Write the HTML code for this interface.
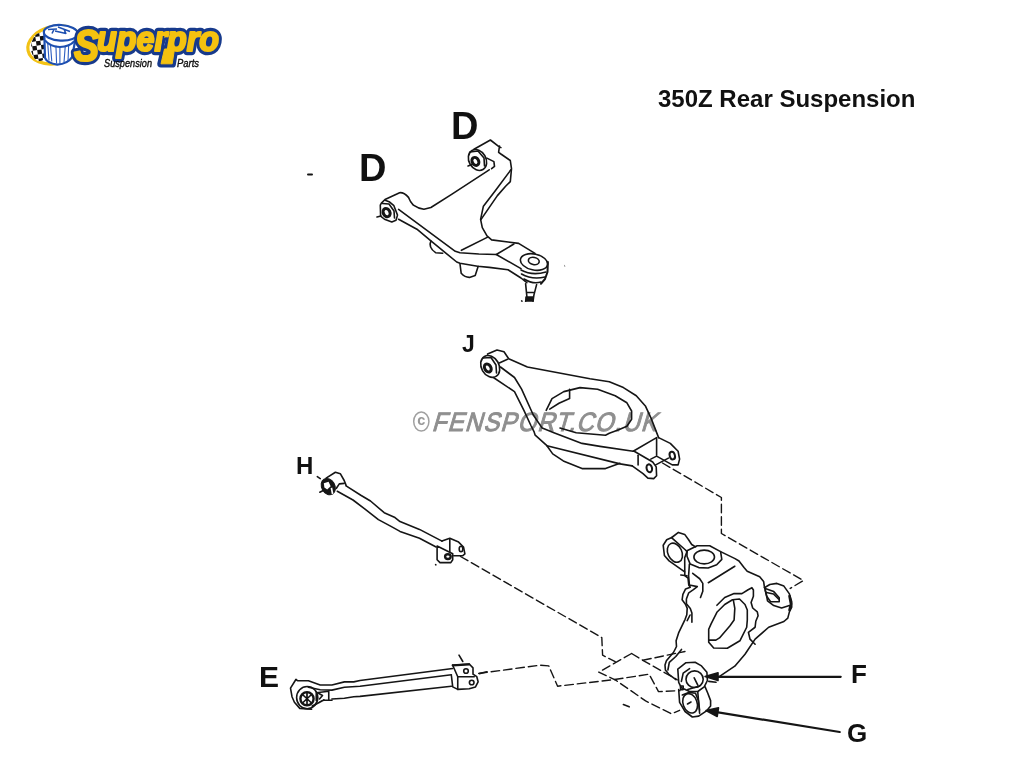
<!DOCTYPE html>
<html><head><meta charset="utf-8">
<style>
html,body{margin:0;padding:0;background:#fff;width:1024px;height:768px;overflow:hidden;}
body{position:relative;font-family:"Liberation Sans",sans-serif;}
.t{position:absolute;font-weight:bold;color:#111;line-height:1;white-space:nowrap;will-change:transform;}
svg{position:absolute;left:0;top:0;}
</style></head><body>
<svg id="logo" width="240" height="80" viewBox="0 0 240 80" style="position:absolute;left:0;top:0;will-change:transform;">
<defs><clipPath id="chk"><ellipse cx="40" cy="47" rx="9" ry="14" transform="rotate(10 40 47)"/></clipPath></defs>
<ellipse cx="55" cy="45" rx="27.5" ry="18.5" transform="rotate(-12 55 45)" fill="#fff" stroke="#f2c215" stroke-width="3.2"/>
<g clip-path="url(#chk)" transform="rotate(-8 40 47)">
<rect x="28" y="32" width="24" height="32" fill="#fff"/>
<g fill="#111">
<rect x="28" y="32" width="4.4" height="4.4"/><rect x="36.8" y="32" width="4.4" height="4.4"/><rect x="45.6" y="32" width="4.4" height="4.4"/>
<rect x="32.4" y="36.4" width="4.4" height="4.4"/><rect x="41.2" y="36.4" width="4.4" height="4.4"/>
<rect x="28" y="40.8" width="4.4" height="4.4"/><rect x="36.8" y="40.8" width="4.4" height="4.4"/><rect x="45.6" y="40.8" width="4.4" height="4.4"/>
<rect x="32.4" y="45.2" width="4.4" height="4.4"/><rect x="41.2" y="45.2" width="4.4" height="4.4"/>
<rect x="28" y="49.6" width="4.4" height="4.4"/><rect x="36.8" y="49.6" width="4.4" height="4.4"/><rect x="45.6" y="49.6" width="4.4" height="4.4"/>
<rect x="32.4" y="54" width="4.4" height="4.4"/><rect x="41.2" y="54" width="4.4" height="4.4"/>
<rect x="28" y="58.4" width="4.4" height="4.4"/><rect x="36.8" y="58.4" width="4.4" height="4.4"/><rect x="45.6" y="58.4" width="4.4" height="4.4"/>
</g></g>
<path d="M44.3,34 L45,57.9 Q47,63 57.2,64.7 Q68,63.8 72.1,57 L76,36" fill="#fff" stroke="#1d4fb0" stroke-width="2.2"/>
<g stroke="#2a5cc0" stroke-width="1.1" fill="none">
<path d="M47.7,43 L49,60.5 M50.4,44 L51.8,61.5 M55.9,45.5 L56.6,63.5 M59.9,46 L59.9,64 M65.3,45.5 L64,62.5 M68.7,44.5 L68,61"/>
</g>
<path d="M45,40.3 Q50,46.5 59.9,47.1 Q70,46.5 74.5,41" fill="none" stroke="#1d4fb0" stroke-width="2"/>
<ellipse cx="60.8" cy="32.8" rx="17" ry="7.8" transform="rotate(3 60.8 32.8)" fill="#fff" stroke="#1d4fb0" stroke-width="2.2"/>
<path d="M48,29.5 L57,29 M52,33.5 L54,29.5 M55,31 L66,33.5 M64,29 L66,34 M58,27 L70,31.5" stroke="#1d4fb0" stroke-width="1.6" fill="none"/>
<g font-family="Liberation Sans" font-weight="bold" font-style="italic" fill="#173a8c" stroke="#173a8c" stroke-width="8.5" stroke-linejoin="round">
<text x="74" y="61" font-size="44" textLength="25" lengthAdjust="spacingAndGlyphs">S</text>
<text x="97" y="50.5" font-size="35" textLength="122" lengthAdjust="spacingAndGlyphs">uperpro</text>
<path d="M164.5,49 L174.5,49 L172.2,63.8 L161,63.8 Z" stroke-width="7.5"/>
</g>
<g font-family="Liberation Sans" font-weight="bold" font-style="italic" fill="#f5c20f" stroke="#f5c20f" stroke-width="2.2" stroke-linejoin="round">
<text x="74" y="61" font-size="44" textLength="25" lengthAdjust="spacingAndGlyphs">S</text>
<text x="97" y="50.5" font-size="35" textLength="122" lengthAdjust="spacingAndGlyphs">uperpro</text>
<path d="M164.5,49 L174.5,49 L172.2,63.8 L161,63.8 Z" stroke-width="1"/>
<path d="M163.6,36 L160.8,58" stroke="#173a8c" stroke-width="1.6" fill="none"/>
</g>
<g font-family="Liberation Sans" font-style="italic" stroke="#000" stroke-width="0.35" fill="#1a1a1a" font-size="10.5">
<text x="104" y="66.5" textLength="48" lengthAdjust="spacingAndGlyphs">Suspension</text>
<text x="177" y="66.5" textLength="22" lengthAdjust="spacingAndGlyphs">Parts</text>
</g>
</svg>
<div class="t" id="title" style="left:658px;top:87px;font-size:24px;">350Z Rear Suspension</div>
<div class="t" id="d1" style="left:450.5px;top:107px;font-size:38px;">D</div>
<div class="t" id="d2" style="left:358.5px;top:148.5px;font-size:38px;">D</div>
<div class="t" id="lj" style="left:462px;top:333px;font-size:23px;">J</div>
<div class="t" id="lh" style="left:295.5px;top:454px;font-size:24px;">H</div>
<div class="t" id="le" style="left:259px;top:662px;font-size:30px;">E</div>
<div class="t" id="lf" style="left:850.5px;top:661px;font-size:26px;">F</div>
<div class="t" id="lg" style="left:847px;top:720px;font-size:26px;">G</div>
<svg id="wmsvg" width="1024" height="768" style="position:absolute;left:0;top:0;">
<g fill="#8f8f8f" font-family="Liberation Sans">
<ellipse cx="421.3" cy="421.5" rx="7.6" ry="9.6" fill="none" stroke="#a0a0a0" stroke-width="1.5"/>
<text x="421.3" y="425.3" font-size="14.5" font-weight="bold" fill="#999" text-anchor="middle">c</text>
<text x="0" y="0" font-size="26.5" stroke="#8f8f8f" stroke-width="1.0" textLength="250" lengthAdjust="spacing" transform="translate(431.5 431.3) scale(0.9 1) skewX(-18)">FENSPORT.CO.UK</text>
</g></svg>


<svg width="1024" height="768" viewBox="0 0 1024 768" fill="none" stroke="#151515" stroke-width="1.6" stroke-linejoin="round" stroke-linecap="round">
<!-- upper arm D -->
<g id="armD">
<path d="M308,174.5 L312,174.5" stroke-width="2"/>
<path d="M385,199.5 L399.6,192.7 Q404,192.3 408.5,197.4 L410.5,201.5 L413.4,205.2 Q418,208.5 423.9,209.3 L430.9,207.5 L452,194.1 L489.2,169.8"/>
<path d="M381.4,203.1 L384.5,200 L389.7,202.1 L393.9,205.7 L397.5,215.1 L396,220.3 L391.8,221.9 L384.5,219.25 L380.6,216.1 L380.3,205.2 Z"/>
<ellipse cx="386.6" cy="212.6" rx="3.3" ry="4.3" stroke-width="3" transform="rotate(-25 386.6 212.6)"/>
<path d="M382.5,203.5 L389,204 L394,211 L394.5,218"/>
<path d="M377,217 L381,216"/>
<path d="M398.6,209.4 L455.3,251.3 L460,252.8 L478.8,254 L496.3,254.5"/>
<path d="M398.6,219.25 L416.9,229.2 L430.9,240.9 L456.7,262 L460,263.3 L477.6,266.3 L489.3,267.4 L508,269.8 L521,278 L526.8,282.7"/>
<path d="M430.9,240.9 Q428,247.5 435.6,252.7 L442.7,253.2"/>
<path d="M460,264 L461.2,273.3 Q465,277.5 469.4,277.4 L475.2,275.6 L478.2,266.3"/>
<path d="M461.4,250.3 L487.2,237.4"/>
<path d="M474,149.3 L490.4,140 L498.6,146.4 L500.9,147.6 M499.5,146 L498.6,152.3 L500.9,154 L510.3,160.5 L511.5,168.7 L510.3,181.6 L505.6,186.3 L497.4,195.6 L484.5,214.4 L481.1,219.4"/>
<path d="M510.9,169.8 L495.1,190.9 L483.4,206.2 L480.6,219.4 L482.3,227.6 L487,235.8 L491.6,239.9 L518.6,243.4 L535,253.4"/>
<ellipse cx="477.5" cy="160" rx="8.5" ry="11" transform="rotate(-30 477.5 160)"/>
<ellipse cx="475.4" cy="161.4" rx="3.2" ry="4.2" stroke-width="3" transform="rotate(-30 475.4 161.4)"/>
<path d="M470,152 L478,151 L484,158 L484.5,166"/>
<path d="M468,166 L472,164.5"/>
<path d="M486.9,158.1 L493.9,161.6 L494.5,166.3 L491.6,168.7"/>
<path d="M496.3,254.5 L513.9,244 M496.3,254.5 L521,268.6"/>
<ellipse cx="534" cy="262" rx="13.8" ry="8" transform="rotate(12 534 262)"/>
<ellipse cx="533.8" cy="261" rx="5.5" ry="3.5" transform="rotate(12 533.8 261)"/>
<path d="M521,270 Q532,276 546,272 M521.5,274 Q532,280 545,277 M524,279 Q533,284.5 541,282"/>
<path d="M547.9,262 L547.5,272 L545,279 L540.9,283.8" stroke-width="2"/>
<path d="M525.6,283.7 L526.9,296.9 L525.6,301.3 M536.6,284.6 L533.9,295.1 L533,301.3 M526.5,292.5 L534,292.5"/>
<path d="M526,297 L533,297 L533,301 L526,301 Z" fill="#151515"/>
<path d="M521.6,300.9 L522,301.2" stroke-width="1.5"/>
<path d="M564.5,265.3 L564.8,266.5" stroke="#999" stroke-width="1"/>
</g>
<g id="armJ">
<ellipse cx="490.2" cy="366.4" rx="8.8" ry="11.5" transform="rotate(-30 490.2 366.4)"/>
<ellipse cx="487.8" cy="368" rx="3.1" ry="4.3" stroke-width="3" transform="rotate(-30 487.8 368)"/>
<path d="M483,358 L491,357.5 L496,365 L496.5,373"/>
<path d="M487.6,354.1 L497,350 L504,351.7 L508.7,358.8 L527.4,367 L590,378.7 L609.3,381.7 L623.4,387.6 L636.3,395.8 L645.6,406.3 L651.5,419.2 L658.6,437.6"/>
<path d="M499.3,362.9 L507.5,359.3"/>
<path d="M500.5,367 L514.5,377.5 L521.6,389.2 L533.3,415 L542.2,428.1 L553.9,432.8 L582,443.4 L600,446.4 L633.2,451.25"/>
<path d="M493.4,377.5 L514.5,391.6 L523.9,410.3 L530.9,425.5 L534,431.6 L535.2,435.2 L546.9,445.7 L620,463.9 L632.2,465.9"/>
<path d="M546.9,445.7 L552.7,453.9 L563.3,460.9 L582,468.6 L605.5,468.6 L620,463.3"/>
<path d="M546.2,410.3 L552,398.6 L563.8,391.6 L580,387.6 L597.6,389.3 L615.2,395.8 L626.9,402.8 L631.6,411 L631.6,419.2 L626.9,426.3 L618.7,429.8 L609.3,433.3 L605.5,435.2 L576.2,432.8 L560,428"/>
<path d="M549.7,409.1 L559,403.3 L569.6,398.6 L569.6,389.2"/>
<path d="M633.2,451.25 L656.6,437.6 L656.6,455.2"/>
<path d="M658.6,437.6 L670.3,443.4 L678.1,451.25 L679.6,459.1 L678.1,464.9 L672.3,464.9 L656.6,456.1 L650.8,459.1"/>
<path d="M655.7,464.9 L668.4,458.1"/>
<path d="M634.2,451.25 L652.7,462 L656.2,466.9 L656.6,475.7 L653.7,478.6 L647.9,478.1 L643,473.7 L632.2,465.9"/>
<path d="M638.1,455.2 L638.1,464.9"/>
<ellipse cx="672.3" cy="455.6" rx="2.6" ry="3.9" stroke-width="2" transform="rotate(-15 672.3 455.6)"/>
<ellipse cx="649.3" cy="468.3" rx="2.7" ry="4" stroke-width="2" transform="rotate(-15 649.3 468.3)"/>
</g>
<g id="dashes" stroke-dasharray="8.5 4" stroke-width="1.4">
<path d="M662.5,463 L721.4,497.5 L721.4,533.5 L803.4,580.6 L790.2,588.4"/>
<path d="M460.5,556.5 L601.8,637.6 L602.6,655.2 L615.2,661.7"/>
<path d="M631.6,653.5 L598.75,672.2 L615.2,679.8 L645.6,700.9 L671.4,713.8 L679.6,710.3"/>
<path d="M631.6,653.5 L642.8,660.3 L677.3,679.8"/>
<path d="M642.8,660.3 L670.9,654.4 L685,651.5"/>
<path d="M478.75,673.4 L539.8,665.2 L548.7,665.9 L557.6,686.2 L614,679.6 L649.1,674.2 L658.5,691.6 L680,690.6"/>
</g>
<g id="knuckle">
<path d="M623.4,704.5 L629.2,706.8"/>
<path d="M671.8,537.5 L666.7,539.8 L663.2,545.3 L664.4,555.5 L669.1,560.9 L676.9,566.4 L684.7,571.9"/>
<path d="M671.8,537.5 L678.4,532.4 L684.7,534.4 L688.6,539.8 L691.7,544.5 L695.6,546.9"/>
<path d="M671.8,537.9 L685.5,550 L687,551.6"/>
<ellipse cx="674.9" cy="552.7" rx="7" ry="10" transform="rotate(-25 674.9 552.7)"/>
<path d="M687,550.8 L697.2,545.7 L709.7,545.7 L720.6,551.6 L721.8,559.4 L716.7,564.8 L708.1,568 L698.75,567.6 L690.2,564.1 L687,556.25 Z"/>
<ellipse cx="704.2" cy="557" rx="10.3" ry="6.9"/>
<path d="M720.6,551.6 L735,558.6 L739,561 L744,567.5 L747.2,571.25 L759.7,576.7 L763.6,581.4 L764.4,586.9 L765.2,590 L766.7,596.25 L767.5,600.9 L773.75,605.6 L781.6,608 L789.4,605.6"/>
<path d="M687,551.6 L684.7,557.8 L684.8,575.6 L688,578 L688.75,585 L690.3,587.3 L685.6,588.9 L682.9,594.4 L682.1,599.8 L685.6,604.5 L687.2,608.4 L686.8,614.7 L685.1,619.3 L678.6,632.9 L676.1,640.8 L676.5,646.5 L673.6,652.25 L666.4,660.8 L665,665.1 L665.4,670 L668.6,674.1 L675.9,679.6"/>
<path d="M689.4,564.1 L688.6,575.8 L689.4,585 L697.3,586.6 L693.4,589.7 L688.75,592.8 L686.4,599 L686.4,603.75 L690.3,608.4 L691.9,613.1 L691.9,622.2"/>
<path d="M690.1,615 L687.2,620.7"/>
<path d="M681.5,649.4 L675.8,656.5 L669.3,662.3 L667.9,670"/>
<path d="M680.8,575 L687,575.8"/>
<path d="M692.7,573.3 L699.7,578.75 L702.8,583.4 L702.8,591.25 L700.5,597.5"/>
<path d="M708.3,582.7 L734.8,566.25"/>
<path d="M716.9,605.3 L724.7,597.5 L734.1,593.6 L741.9,593.6 L748.1,589.7 L751.9,587.7 L753.4,590 L753.4,596.25 L751.1,602.5 L752.7,608 L757.3,611.9 L758.1,615.8 L755.8,621.25 L755.1,627.25 L748.4,632.3 L750,639.1 L755.1,644.2"/>
<path d="M711.1,623.9 L716.9,612.3 L724.7,604.5 L732.5,599.8 L739.5,599 L745,604.5 L747.3,610 L747.3,620 L746.7,627.25 L739.9,640.8 L727.3,648.3 L713.7,648 L708.7,642.2 L708.7,629.3 Z"/>
<path d="M733.3,599.8 L734.8,608.4 L734.1,620 L730,625.7 L719.5,637.9 L715.9,640.1 L708.7,640.1"/>
<path d="M764.4,587.7 L769.8,584.5 L776.9,583.4 L783.9,586.1 L789.4,593.9 L791.7,601.7 L791.7,607.2 L789.4,611.9 L787.8,618.1 L783.9,621.5 L768.7,627.25 L755.1,639.1 L745,654.3 L734.8,666.2 L719.6,676.4"/>
<path d="M765.2,588.4 L773.75,591.6 L779.2,597.8 L779.2,601.7 L770.6,601.7 L766.7,596.25 L765.2,590"/>
<path d="M766.5,592.5 L773.5,594 L778.5,599"/>
<path d="M789.5,596 L791,604 L789.5,610" stroke-width="2.6"/>
<path d="M677.8,669.1 L686,662.7 L695.1,662.3 L701.5,665.9 L706.9,672.3 L707.4,680.5 L704.2,686.9 L697.8,691.5 L689.6,691.5 L681.4,687.8 L678.7,682.3 Z"/>
<ellipse cx="694.6" cy="679.2" rx="8.6" ry="8.3"/>
<path d="M681.4,681.4 L683.2,673.2 L689.6,668.7 M687.8,689.6 L699.6,686"/>
<path d="M694.2,677.8 L697.8,685.1"/>
<path d="M678.7,689.6 L679.6,702.4 L685.05,711.5 L692.35,717 L698.7,716.1 L706.9,710.6 L710.6,706 L710.6,700.6 L707.8,693.3 L705.1,686.9"/>
<ellipse cx="690.1" cy="703.3" rx="7" ry="10" transform="rotate(-20 690.1 703.3)"/>
<path d="M682.3,695 L688.7,692.4 L695.5,693.3 L698.4,700.6 L699.6,710"/>
<path d="M697.8,692.4 L699.6,713.3"/>
<path d="M687.5,704 L691,702"/>
<rect x="680.5" y="686" width="2.7" height="3.6"/>
</g>
<g id="arrows">
<path d="M840.7,676.8 L712,676.8" stroke-width="2.2"/>
<path d="M705.1,676.6 L718,672.8 L718,680.6 Z" fill="#151515"/>
<path d="M708.75,681.4 L716,682.3"/>
<path d="M839.7,732 L712,711.4" stroke-width="2.2"/>
<path d="M706,710.6 L718.5,707.8 L717.2,716.5 Z" fill="#151515"/>
</g>
<g id="armH">
<path d="M317.3,476.6 L320.25,478.6 M319.8,492.2 L323.7,490.3"/>
<ellipse cx="328.3" cy="486.6" rx="6.6" ry="8.6" fill="#151515" stroke-width="1" transform="rotate(-30 328.3 486.6)"/>
<path d="M323.8,483.2 L328.6,481.8 L330.6,486.2 L327.2,489.4 L324.4,487.6 Z" fill="#fff" stroke="none"/>
<path d="M330.6,488.3 L332.2,487.6 L333.4,493.6 L331.8,494.4 Z" fill="#fff" stroke="none"/>
<path d="M326.1,478.1 L335.4,472.2 L340.3,473.7 L344.2,480.5 L346.1,485.4"/>
<path d="M336.4,488.3 L339.3,483.9 L344.2,483.4"/>
<path d="M346.1,485.9 L360.8,495.2 L370.5,501 L384.2,512.7 L395,517.6 L400,521.6 L419.5,529.4 L442,541.1"/>
<path d="M337.3,491.25 L353,500 L364.7,508.8 L378.4,519.6 L391,526.4 L400,531.4 L419.5,538.2 L436.1,547"/>
<path d="M442,541.1 L449.8,538.2 L458.6,542.1 L463.5,547 L464.9,553.8 L462.5,555.8 L453.7,555.8"/>
<path d="M449.8,538.7 L449.8,551.9"/>
<path d="M437.1,546 L437.1,559.7 L440,562.6 L450.8,562.6 L452.7,559.7 L452.7,553.8 L437.1,546"/>
<ellipse cx="447.9" cy="556.6" rx="2.8" ry="2.4" stroke-width="2.4"/>
<ellipse cx="461" cy="549" rx="1.8" ry="2.8" stroke-width="1.6"/>
<path d="M435.6,564.6 L435.9,564.8"/>
</g>

<g id="armE">
<path d="M295.9,679.5 L297.5,680.7 L308.4,680.7 L320.2,685 L331.9,685 L344.4,681.9 L353.75,681.9 L360,680.5 L452.7,668.5"/>
<path d="M295.9,679.5 L290.5,688.1 L292,696.7 L294.4,702.2 L299.8,708.4 L311.6,709.2"/>
<ellipse cx="307.2" cy="697.6" rx="10.6" ry="11.1"/>
<circle cx="307" cy="698.7" r="6.6" stroke-width="2.4"/>
<path d="M303,695 L311,702.5 M311,695 L303,702.5 M307,693 L307,704" stroke-width="1.7"/>
<path d="M308.4,687.3 L320.2,689.7 L331.9,690.1 L344.4,687.3 L360,686.3 L451.4,674.8"/>
<path d="M331.9,699 L344.4,698.3 L353.75,696.7 L360,696.4 L451.4,686.3"/>
<path d="M316.25,692.8 L316.25,700.6 M328.75,691 L328.75,700.2 M316.25,692.8 L328.75,691.2 M324,700.2 L332,700.2"/>
<path d="M312.3,706.1 L324.1,699.8" stroke-width="1.8" stroke-dasharray="1.2 0.8"/>
<path d="M318,693 L322.5,695.5 L319.5,699"/>
<path d="M452.7,665.3 L469.2,664 L473,667.9 L473,674.2 L476.8,676.7 L478.1,681.8 L475.5,686.9 L469.2,688.8 L457.75,689.4 L452.7,686.9 L451.4,675.5"/>
<path d="M452.7,665.3 L457.75,676.7 L457.75,689.4 M457.75,676.7 L474.3,676.7"/>
<path d="M452.7,665.3 L469.2,664.3" stroke-width="2.2"/>
<circle cx="466" cy="671" r="2.3" stroke-width="1.6"/>
<circle cx="471.7" cy="682.5" r="2.3" stroke-width="1.6"/>
<path d="M459,655.2 L462.8,661.5 M479.3,673.6 L487,671.7"/>
</g>
</svg>
</body></html>
